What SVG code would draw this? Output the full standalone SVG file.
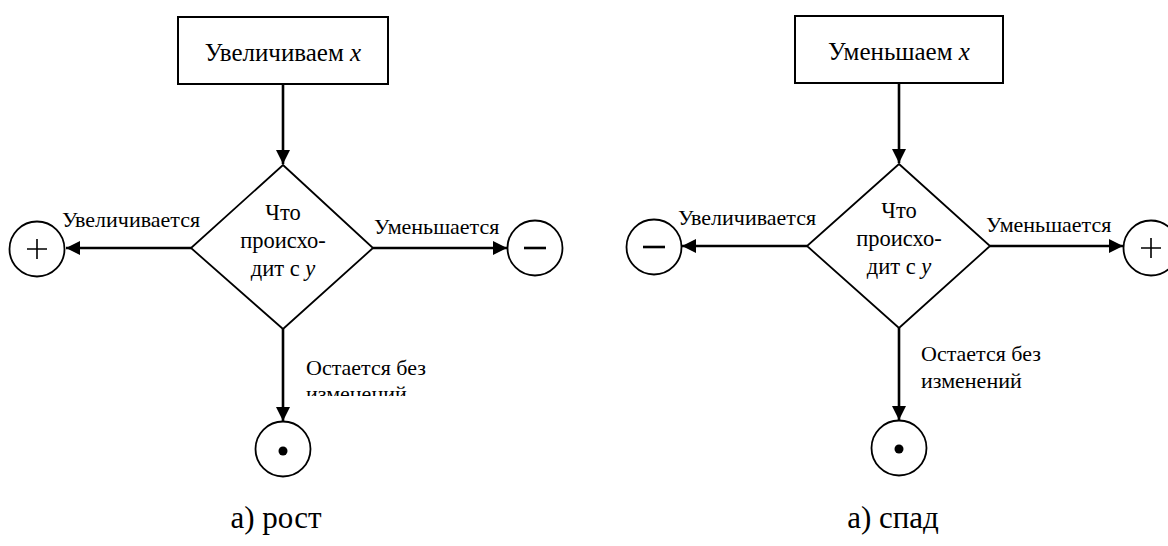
<svg xmlns="http://www.w3.org/2000/svg" width="1168" height="546" viewBox="0 0 1168 546">
<style>
.box{fill:#fff;stroke:#000;stroke-width:2}
.dia{fill:#fff;stroke:#000;stroke-width:1.8}
.circ{fill:#fff;stroke:#000;stroke-width:1.8}
.sym{stroke:#000;stroke-width:1.6;fill:none}
.minus{stroke:#000;stroke-width:2.6;fill:none}
.edge{stroke:#000;stroke-width:2.6;fill:none;marker-end:url(#ah)}
.t{font-size:25px;text-anchor:middle}
.d{font-size:22.5px;text-anchor:middle}
.l{font-size:22px}
.cap{font-size:31px;text-anchor:middle}
.m{font-style:italic}
</style>
<defs>
<marker id="ah" markerWidth="14" markerHeight="14" refX="14" refY="7" orient="auto" markerUnits="userSpaceOnUse">
<path d="M0,0 L14,7 L0,14 Z" fill="#000"/>
</marker>
<clipPath id="clipL"><rect x="290" y="340" width="200" height="56"/></clipPath>
</defs>

<g id="connectors">
<line class="edge" x1="283" y1="84" x2="283" y2="164"/>
<line class="edge" x1="191" y1="248" x2="66" y2="248"/>
<line class="edge" x1="373" y1="248" x2="507" y2="248"/>
<line class="edge" x1="283" y1="329" x2="283" y2="421"/>
<line class="edge" x1="899" y1="83" x2="899" y2="163"/>
<line class="edge" x1="807" y1="246" x2="682" y2="246"/>
<line class="edge" x1="990" y1="246" x2="1123" y2="246"/>
<line class="edge" x1="899" y1="328" x2="899" y2="420"/>
</g>

<g font-family="Liberation Serif, Times New Roman, serif" fill="#000">
<g id="left-start">
<rect class="box" x="178" y="17" width="210" height="67"/>
<text class="t" x="283" y="61">Увеличиваем <tspan class="m">x</tspan></text>
</g>
<g id="left-decision">
<polygon class="dia" points="283,165 373,248 283,329 191,248"/>
<text class="d" x="283" y="220">Что</text>
<text class="d" x="283" y="248">происхо-</text>
<text class="d" x="283" y="276">дит с <tspan class="m">y</tspan></text>
</g>
<g id="left-plus">
<circle class="circ" cx="37" cy="249" r="27.5"/>
<path class="sym" d="M27,249 H47 M37,239 V259"/>
</g>
<g id="left-minus">
<circle class="circ" cx="535" cy="248" r="27.5"/>
<path class="minus" d="M524,248 H546"/>
</g>
<g id="left-dot">
<circle class="circ" cx="283" cy="449" r="27.5"/>
<circle cx="283" cy="451" r="4.5" fill="#000"/>
</g>
<g id="left-labels">
<text class="l" x="62" y="227">Увеличивается</text>
<text class="l" x="374" y="234">Уменьшается</text>
<text class="l" x="306" y="375">Остается без</text>
<text class="l" x="306" y="401" clip-path="url(#clipL)">изменений</text>
<text class="cap" x="276" y="528">а) рост</text>
</g>

<g id="right-start">
<rect class="box" x="795" y="16" width="208" height="67"/>
<text class="t" x="899" y="60">Уменьшаем <tspan class="m">x</tspan></text>
</g>
<g id="right-decision">
<polygon class="dia" points="899,164 990,246 899,328 807,246"/>
<text class="d" x="899" y="218">Что</text>
<text class="d" x="899" y="246">происхо-</text>
<text class="d" x="899" y="274">дит с <tspan class="m">y</tspan></text>
</g>
<g id="right-minus">
<circle class="circ" cx="654" cy="247" r="27.5"/>
<path class="minus" d="M643,247 H665"/>
</g>
<g id="right-plus">
<circle class="circ" cx="1151" cy="248" r="27.5"/>
<path class="sym" d="M1141,248 H1161 M1151,238 V258"/>
</g>
<g id="right-dot">
<circle class="circ" cx="899" cy="448" r="27.5"/>
<circle cx="899" cy="449" r="4.5" fill="#000"/>
</g>
<g id="right-labels">
<text class="l" x="678" y="225">Увеличивается</text>
<text class="l" x="986" y="232">Уменьшается</text>
<text class="l" x="921" y="361">Остается без</text>
<text class="l" x="921" y="388">изменений</text>
<text class="cap" x="893" y="528">а) спад</text>
</g>
</g>
</svg>
